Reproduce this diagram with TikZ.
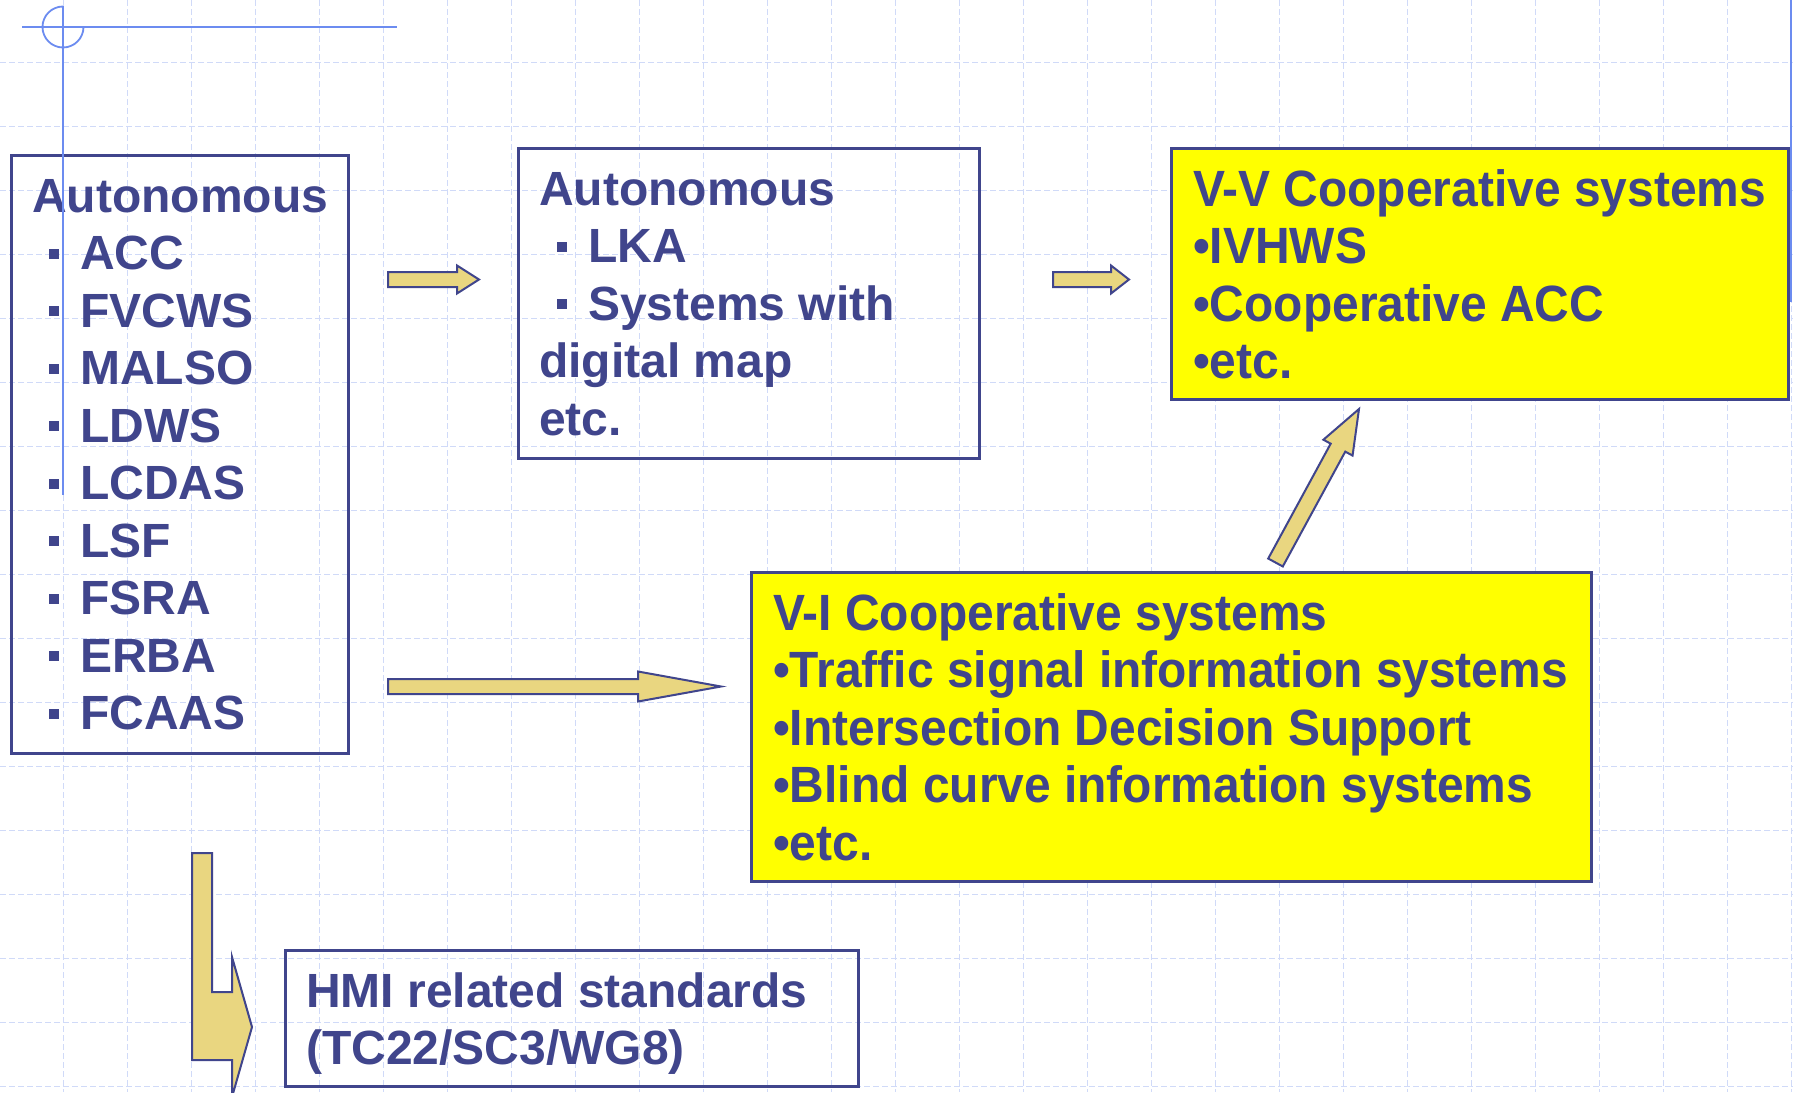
\documentclass[tikz,border=0pt]{standalone}
\usepackage{fontspec}
\setmainfont{Liberation Sans}
\newfontfamily\boldsans{Liberation Sans Bold}
\newfontfamily\coopsans[FakeStretch=0.94]{Liberation Sans Bold}
\usetikzlibrary{calc}

\definecolor{inkblue}{RGB}{64,69,140}
\definecolor{gridblue}{RGB}{208,218,248}
\definecolor{crossblue}{RGB}{108,140,240}
\definecolor{arrowtan}{RGB}{233,214,128}
\definecolor{boxyellow}{RGB}{255,255,0}

% square bullet: indent, mark, gap
\newcommand\sqb[1]{\hspace*{#1}\rule[11pt]{10pt}{10pt}\hspace{21pt}}
% block arrow: start, tip, shaft half width, head half width, head length
\newcommand\fatarrow[5]{%
	\coordinate (hb) at ($(#2)!#5!(#1)$);
	\draw[blockarrow] ($(#1)!#3!90:(#2)$) -- ($(hb)!#3!90:(#2)$) -- ($(hb)!#4!90:(#2)$) -- (#2)
		-- ($(hb)!#4!-90:(#2)$) -- ($(hb)!#3!-90:(#2)$) -- ($(#1)!#3!-90:(#2)$) -- cycle;
}

\tikzset{
	gridline/.style={gridblue, line width=1.2pt, dash pattern=on 6pt off 3pt},
	box/.style={draw=inkblue, line width=2.5pt, inner sep=0pt, anchor=north west},
	yellowbox/.style={box, fill=boxyellow},
	boxtext/.style={anchor=north west, inner sep=0pt, text=inkblue, align=left,
		font=\boldsans\fontsize{48}{57.5}\selectfont},
	cooptext/.style={boxtext, font=\coopsans\fontsize{51}{57.5}\selectfont},
	blockarrow/.style={draw=inkblue, fill=arrowtan, line width=2pt, line join=miter},
	guide/.style={crossblue, line width=1.8pt}
}

\begin{document}
\begin{tikzpicture}[x=1pt,y=-1pt]
			\useasboundingbox (0,0) rectangle (1793,1092);
			\fill[white] (0,0) rectangle (1793,1092);
			%grid
			\foreach \x in {0,...,27}{
				\draw[gridline] ({63.5+64*\x},0) -- ({63.5+64*\x},1092);
			}
			\foreach \y in {0,...,16}{
				\draw[gridline] (0,{62.5+64*\y}) -- (1793,{62.5+64*\y});
			}
			
			%boxes
			\node[box, minimum width=337pt, minimum height=598pt] (auto1) at (10,154) {};
			\node[box, minimum width=461pt, minimum height=310pt] (auto2) at (517,147) {};
			\node[yellowbox, minimum width=617pt, minimum height=251pt] (vv) at (1170,147) {};
			\node[yellowbox, minimum width=840pt, minimum height=309pt] (vi) at (750,571) {};
			\node[box, minimum width=573pt, minimum height=136pt] (hmi) at (284,949) {};
			
			\node[boxtext] (auto1text) at (32,167) {\rule{0pt}{45pt}Autonomous\\
				\sqb{17pt}ACC\\ \sqb{17pt}FVCWS\\ \sqb{17pt}MALSO\\ \sqb{17pt}LDWS\\
				\sqb{17pt}LCDAS\\ \sqb{17pt}LSF\\ \sqb{17pt}FSRA\\ \sqb{17pt}ERBA\\ \sqb{17pt}FCAAS};
			\node[boxtext] (auto2text) at (539,160) {\rule{0pt}{45pt}Autonomous\\
				\sqb{18pt}LKA\\ \sqb{18pt}Systems with\\ digital map\\ etc.};
			\node[cooptext] (vvtext) at (1193,161) {\rule{0pt}{45pt}V-V Cooperative systems\\
				•IVHWS\\ •Cooperative ACC\\ •etc.};
			\node[cooptext] (vitext) at (773,585) {\rule{0pt}{45pt}V-I Cooperative systems\\
				•Traffic signal information systems\\ •Intersection Decision Support\\
				•Blind curve information systems\\ •etc.};
			\node[boxtext] (hmitext) at (306,962) {\rule{0pt}{45pt}HMI related standards\\ (TC22/SC3/WG8)};
			
			%arrows
			\coordinate (a1) at (388,279.5);
			\coordinate (a1tip) at (479,279.5);
			\coordinate (a2) at (1053,279.5);
			\coordinate (a2tip) at (1129,279.5);
			\coordinate (a3) at (388,686.5);
			\coordinate (a3tip) at (721,686.5);
			\coordinate (a4) at (1275.5,562.5);
			\coordinate (a4tip) at (1359,409);
			\fatarrow{a1}{a1tip}{7.5pt}{14pt}{22pt}
			\fatarrow{a2}{a2tip}{7.5pt}{14pt}{18pt}
			\fatarrow{a3}{a3tip}{7.5pt}{15pt}{83pt}
			\fatarrow{a4}{a4tip}{8.3pt}{16.6pt}{44pt}
			\coordinate (a5tip) at (252,1027);
			\draw[blockarrow] (192,853) -- (212,853) -- (212,992) -- (232,992) -- (232,957) -- (a5tip)
				-- (232,1097) -- (232,1060) -- (192,1060) -- cycle;
			
			%guides
			\draw[guide] (22,27) -- (397,27);
			\draw[guide] (63,6) -- (63,495);
			\draw[guide] (83.5,27) arc[start angle=0, end angle=270, radius=20.5];
			\draw[crossblue, line width=2.5pt] (1791,0) -- (1791,302);
		\end{tikzpicture}
\end{document}
